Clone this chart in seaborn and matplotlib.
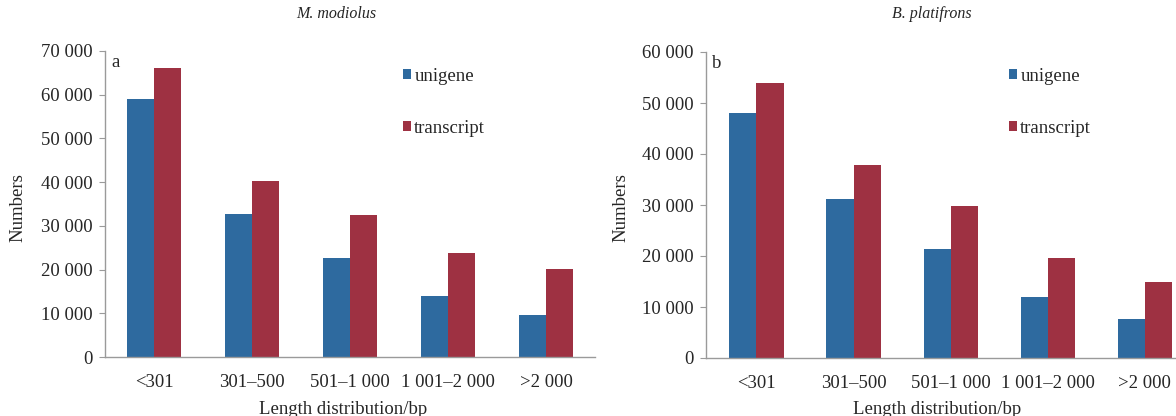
import matplotlib.pyplot as plt
import matplotlib.ticker as mticker
import pandas as pd
import seaborn as sns

categories = ["<301", "301–500", "501–1 000", "1 001–2 000", ">2 000"]
series = ["unigene", "transcript"]

modiolus_unigene = [59000, 32700, 22600, 14000, 9600]
modiolus_transcript = [66000, 40300, 32500, 23700, 20100]
platifrons_unigene = [48000, 31200, 21300, 12000, 7600]
platifrons_transcript = [54000, 37900, 29800, 19600, 15000]

colors = {"unigene": "#2E6A9F", "transcript": "#9E3142"}


def long_df(uni, tra):
    return pd.DataFrame({
        "cat": categories * 2,
        "series": ["unigene"] * 5 + ["transcript"] * 5,
        "value": uni + tra,
    })


sns.set_style("white")
plt.rcParams["font.family"] = ["Liberation Serif", "DejaVu Serif"]

fig = plt.figure(figsize=(11.76, 4.16), dpi=100)
ax1 = fig.add_axes([105 / 1176, 59 / 416, 490 / 1176, 306 / 416])
ax2 = fig.add_axes([706 / 1176, 58 / 416, 470 / 1176, 306 / 416])


def space_fmt(v, pos):
    return f"{int(v):,}".replace(",", " ")


panels = [
    (ax1, modiolus_unigene, modiolus_transcript, 70000, "a", (-0.5, 4.5),
     "M. modiolus", 336 / 1176, 18 / 1176, 403 / 1176, 343 / 1176),
    (ax2, platifrons_unigene, platifrons_transcript, 60000, "b", (-0.52, 4.32),
     "B. platifrons", 932 / 1176, 621 / 1176, 1009 / 1176, 937 / 1176),
]

for ax, uni, tra, ymax, letter, xl, title, tx, lx, legx, xlx in panels:
    df = long_df(uni, tra)
    sns.barplot(data=df, x="cat", y="value", hue="series", hue_order=series,
                palette=colors, width=0.56, gap=0, ax=ax, saturation=1,
                linewidth=0)
    ax.set_ylim(0, ymax)
    ax.set_xlim(*xl)
    ax.yaxis.set_major_locator(mticker.MultipleLocator(10000))
    ax.yaxis.set_major_formatter(mticker.FuncFormatter(space_fmt))
    ax.set_xlabel("")
    ax.set_ylabel("")
    for s in ["top", "right"]:
        ax.spines[s].set_visible(False)
    for s in ["left", "bottom"]:
        ax.spines[s].set_color("#9a9a9a")
        ax.spines[s].set_linewidth(1.0)
    ax.tick_params(axis="y", left=True, length=4, color="#9a9a9a",
                   labelsize=13.5, pad=5)
    ax.tick_params(axis="x", bottom=False, labelsize=13.5, pad=9)
    ax.text(0.012, 0.99, letter, transform=ax.transAxes, fontsize=13.5,
            va="top", ha="left")
    fig.text(tx, 0.966, title, style="italic", fontsize=11.5, ha="center",
             va="center")
    fig.text(lx, 0.50, "Numbers", rotation=90, fontsize=13.5, ha="center",
             va="center")
    fig.text(xlx, 0.016, "Length distribution/bp", fontsize=13.5,
             ha="center", va="center")
    ax.legend(loc="upper left", bbox_to_anchor=(legx, 1 - 68 / 416),
              bbox_transform=fig.transFigure, frameon=False, fontsize=13.5,
              handlelength=0.45, handleheight=0.45, handletextpad=0.15,
              labelspacing=1.85, borderaxespad=0, borderpad=0)

fig.savefig("out.png", dpi=100)
